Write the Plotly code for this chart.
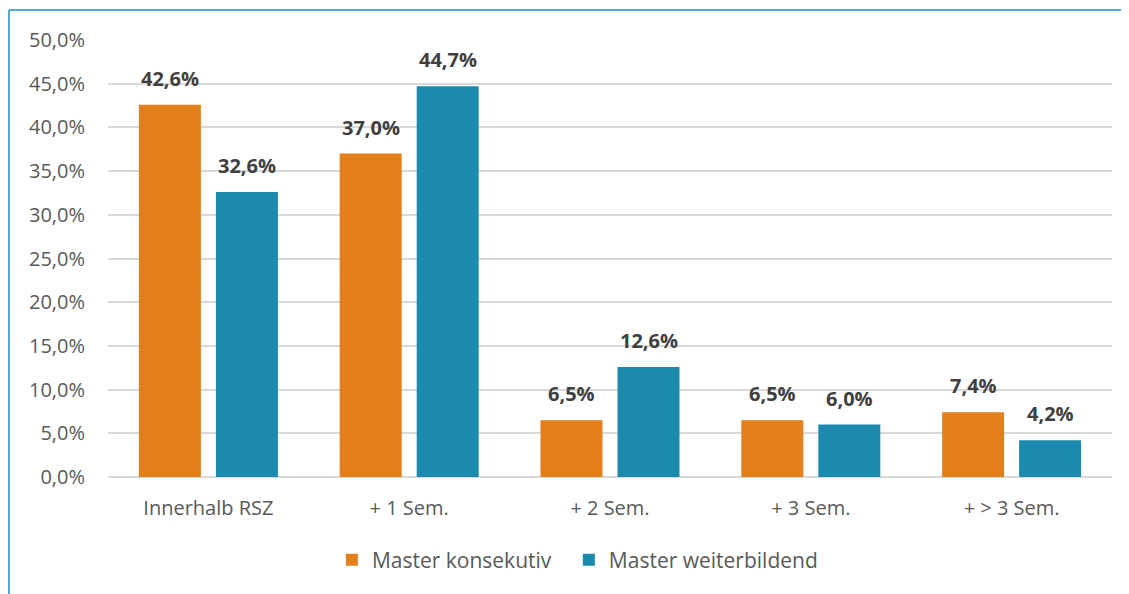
import plotly.graph_objects as go

categories = ["Innerhalb RSZ", "+ 1 Sem.", "+ 2 Sem.", "+ 3 Sem.", "+ > 3 Sem."]
konsekutiv = [42.6, 37.0, 6.5, 6.5, 7.4]
weiterbildend = [32.6, 44.7, 12.6, 6.0, 4.2]
series_names = ["Master konsekutiv", "Master weiterbildend"]
tick_vals = [0, 5, 10, 15, 20, 25, 30, 35, 40, 45, 50]
tick_text = [f"{v:.1f}%".replace(".", ",") for v in tick_vals]

ORANGE = "#E4801C"
TEAL = "#1C8AAE"
FONT = "Open Sans"

# page body has an 8px margin, so figure is offset by 8px
OFF = 8
W, H = 1129 - OFF, 594 - OFF
L, R, T, B = 108 - OFF, 17, 40 - OFF, 117
pw, ph = W - L - R, H - T - B

fig = go.Figure()
for name, vals, col, lg in [(series_names[0], konsekutiv, ORANGE, "legend"),
                            (series_names[1], weiterbildend, TEAL, "legend2")]:
    fig.add_trace(go.Bar(x=categories, y=vals, name=name, marker=dict(color=col, line=dict(width=0)),
                         hoverinfo="x+y", legend=lg))

# data labels as annotations
for i, (name, vals) in enumerate([(series_names[0], konsekutiv), (series_names[1], weiterbildend)]):
    shift = -38.5 if i == 0 else 38.5
    for c, v in zip(categories, vals):
        fig.add_annotation(x=c, y=v, text=f"<b>{v:.1f}%</b>".replace(".", ","), showarrow=False,
                           xshift=shift, yanchor="bottom", yshift=11,
                           font=dict(family=FONT, size=20, color="#404040"))

# border lines (left and top)
bx = (9 - OFF - L) / pw
by = 1 + (T - (10 - OFF)) / ph
fig.add_shape(type="line", xref="paper", yref="paper", x0=bx, x1=bx, y0=by, y1=-(B + 5) / ph,
              line=dict(color="#1F8DBE", width=1.5))
fig.add_shape(type="line", xref="paper", yref="paper", x0=bx, x1=(W - L + 5) / pw, y0=by, y1=by,
              line=dict(color="#1F8DBE", width=1.5))

legend_style = dict(orientation="h", y=-0.19, yanchor="middle", xanchor="left",
                    font=dict(family=FONT, size=21, color="#595959"),
                    itemsizing="constant", bgcolor="rgba(0,0,0,0)")

fig.update_layout(
    width=W, height=H,
    margin=dict(l=L, r=R, t=T, b=B),
    paper_bgcolor="white", plot_bgcolor="white",
    separators=",.",
    barmode="group", bargap=0.233, bargroupgap=0.195,
    font=dict(family=FONT, size=20, color="#595959"),
    showlegend=True,
    legend=dict(x=0.223, **legend_style),
    legend2=dict(x=0.459, **legend_style),
)
fig.update_yaxes(range=[0, 50], tickvals=tick_vals, ticktext=tick_text,
                 showgrid=True, gridcolor="#D9D9D9", gridwidth=1.5,
                 zeroline=True, zerolinecolor="#D9D9D9", zerolinewidth=1.5,
                 showline=False, ticks="", ticklabelstandoff=22,
                 tickfont=dict(family=FONT, size=20, color="#595959"))
fig.update_xaxes(showline=False, ticks="", ticklabelstandoff=17,
                 tickfont=dict(family=FONT, size=20, color="#595959"))

fig.write_html("out.html")
